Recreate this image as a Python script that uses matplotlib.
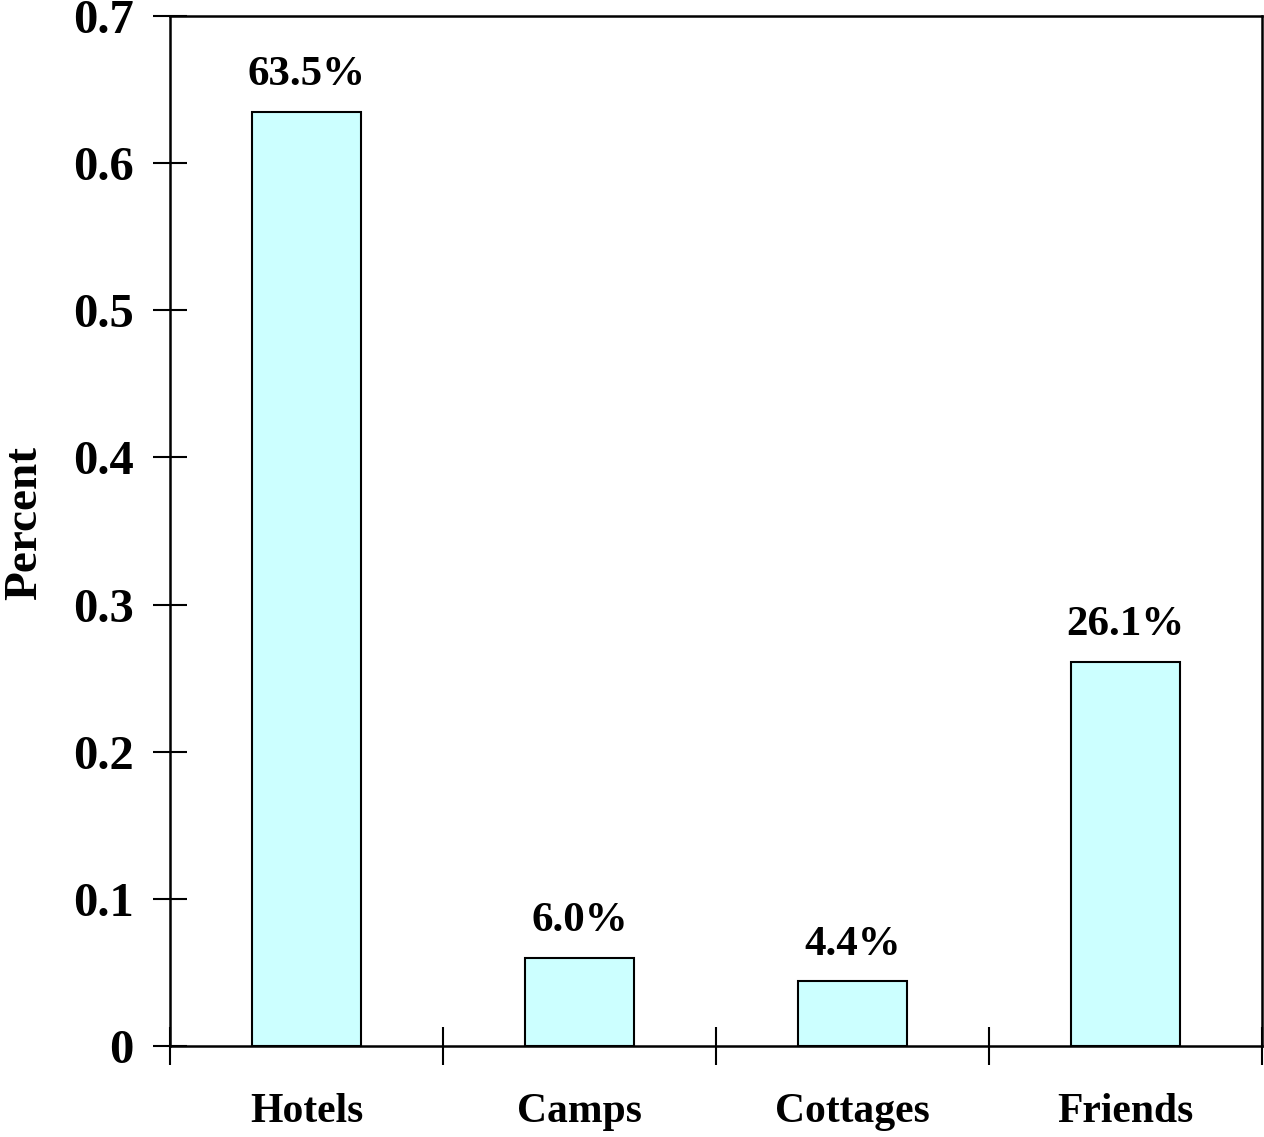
import matplotlib.pyplot as plt
import numpy as np

# data
categories = ['Hotels', 'Camps', 'Cottages', 'Friends']
shares = [0.635, 0.060, 0.044, 0.261]
labels = ['63.5%', '6.0%', '4.4%', '26.1%']
yticks = [0, 0.1, 0.2, 0.3, 0.4, 0.5, 0.6, 0.7]
ytick_labels = ['0', '0.1', '0.2', '0.3', '0.4', '0.5', '0.6', '0.7']

plt.rcParams['font.family'] = 'Liberation Serif'
plt.rcParams['font.weight'] = 'bold'

fig = plt.figure(figsize=(12.64, 11.37), dpi=100)
ax = fig.add_axes([170 / 1264, 1 - 1046 / 1137, 1092 / 1264, 1030 / 1137])

x = np.arange(1, len(categories) + 1)
ax.bar(x, shares, width=0.4, color='#CCFFFF', edgecolor='black', linewidth=1.5)

for xi, v, lab in zip(x, shares, labels):
    ax.text(xi, v + 0.012, lab, ha='center', va='bottom', fontsize=31, fontweight='bold')

ax.set_xlim(0.5, len(categories) + 0.5)
ax.set_ylim(0, 0.7)

ax.set_yticks(yticks)
ax.set_yticklabels(ytick_labels, fontsize=35, fontweight='bold')
ax.tick_params(axis='y', direction='inout', length=24, width=1.5, pad=14)

ax.set_xticks(x)
ax.set_xticklabels(categories, fontsize=30, fontweight='bold')
ax.tick_params(axis='x', which='major', length=0, pad=34)
ax.set_xticks(np.arange(0.5, len(categories) + 1, 1.0), minor=True)
ax.tick_params(axis='x', which='minor', direction='inout', length=28, width=1.5)

for s in ax.spines.values():
    s.set_linewidth(1.8)

ax.set_ylabel('Percent', fontsize=34, fontweight='bold')
ax.yaxis.set_label_coords(-0.113, 0.508)

plt.savefig('out.png', dpi=100)
